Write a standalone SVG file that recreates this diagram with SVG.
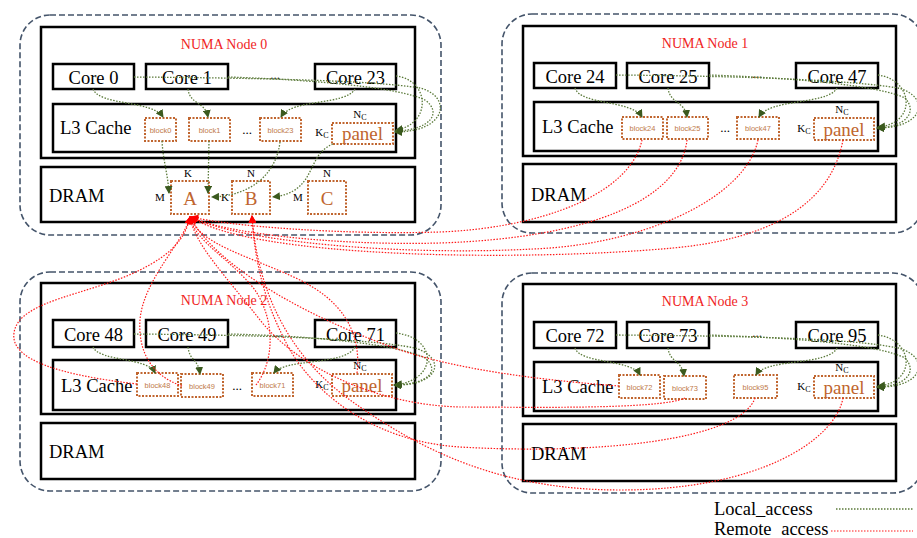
<svg xmlns="http://www.w3.org/2000/svg" width="917" height="538" viewBox="0 0 917 538">
<style>
.outer{fill:none;stroke:#44546a;stroke-width:1.6;stroke-dasharray:6 3}
.box{fill:#fff;stroke:#000;stroke-width:2.5}
.blk{fill:#fff;stroke:#c0652e;stroke-width:2;stroke-dasharray:2 1.5}
.t{font-family:"Liberation Serif","Times New Roman",serif;fill:#000}
.core{font-size:18.5px;text-anchor:middle}
.big{font-size:18.5px}
.title{font-family:"Liberation Serif",serif;font-size:14px;fill:#f01e1e;text-anchor:middle}
.bt{font-family:"Liberation Sans",sans-serif;font-size:7.5px;fill:#c07a4a;text-anchor:middle}
.pan{font-family:"Liberation Serif",serif;font-size:19px;fill:#c0652e;text-anchor:middle}
.mat{font-family:"Liberation Serif",serif;font-size:19px;fill:#c0652e;text-anchor:middle}
.lab{font-family:"Liberation Serif",serif;font-size:11px;fill:#000;text-anchor:middle}
.sub{font-size:8px}
.dots{font-family:"Liberation Serif",serif;font-size:13px;fill:#000;text-anchor:middle}
.g{fill:none;stroke:#5b7a3a;stroke-width:1.3;stroke-dasharray:1.5 1.5}
.r{fill:none;stroke:#ff1a1a;stroke-width:1.2;stroke-dasharray:1.5 1.5}
.ga{marker-end:url(#ag)}
.ra{marker-end:url(#ar)}
</style>
<defs>
<marker id="ag" markerUnits="userSpaceOnUse" markerWidth="8" markerHeight="8" refX="7" refY="4" orient="auto"><path d="M0,0 L8,4 L0,8 z" fill="#3b5a1e"/></marker>
<marker id="ar" markerUnits="userSpaceOnUse" markerWidth="8" markerHeight="8" refX="7" refY="4" orient="auto"><path d="M0,0 L8,4 L0,8 z" fill="#ff0000"/></marker>
</defs>
<rect width="917" height="538" fill="#fff"/>

<g id="numa0">
<rect class="outer" x="20" y="15" width="421" height="220" rx="30"/>
<rect class="box" x="41" y="27" width="374" height="131"/>
<text class="title" x="224" y="49">NUMA Node 0</text>
<g id="core0"><rect class="box" x="53" y="64" width="81" height="25"/><text class="t core" x="93.5" y="84">Core 0</text></g>
<g id="core1"><rect class="box" x="146" y="64" width="82" height="25"/><text class="t core" x="187" y="84">Core 1</text></g>
<text class="dots" x="275" y="79">...</text>
<g id="core23"><rect class="box" x="315" y="64" width="81" height="25"/><text class="t core" x="355.5" y="84">Core 23</text></g>
<g id="l3_0"><rect class="box" x="53" y="104" width="343" height="48"/><text class="t big" x="60" y="134">L3 Cache</text></g>
<g id="block0"><rect class="blk" x="145" y="118" width="31" height="23"/><text class="bt" x="160.5" y="132.5">block0</text></g>
<g id="block1"><rect class="blk" x="189" y="118" width="41" height="23"/><text class="bt" x="209.5" y="132.5">block1</text></g>
<text class="dots" x="247" y="134">...</text>
<g id="block23"><rect class="blk" x="260" y="118" width="41" height="23"/><text class="bt" x="280.5" y="132.5">block23</text></g>
<g id="panel0"><text class="lab" x="322" y="136">K<tspan class="sub" dy="2">C</tspan></text><text class="lab" x="360" y="118">N<tspan class="sub" dy="2">C</tspan></text><rect class="blk" x="332" y="123" width="61" height="21"/><text class="pan" x="362.5" y="140">panel</text></g>
<g id="dram0"><rect class="box" x="41" y="167" width="374" height="55"/><text class="t big" x="49" y="202">DRAM</text></g>
<g id="matA"><rect class="blk" x="171" y="181" width="38" height="33"/><text class="mat" x="190" y="205">A</text><text class="lab" x="188" y="177">K</text><text class="lab" x="160" y="201">M</text></g>
<g id="matB"><rect class="blk" x="232" y="181" width="38" height="33"/><text class="mat" x="251" y="205">B</text><text class="lab" x="251" y="177">N</text><text class="lab" x="225" y="201">K</text></g>
<g id="matC"><rect class="blk" x="308" y="181" width="38" height="33"/><text class="mat" x="327" y="205">C</text><text class="lab" x="327" y="177">N</text><text class="lab" x="298" y="201">M</text></g>
</g>

<g id="numa1">
<rect class="outer" x="502" y="14" width="421" height="219" rx="30"/>
<rect class="box" x="523" y="26" width="373" height="130"/>
<text class="title" x="705" y="48">NUMA Node 1</text>
<g id="core24"><rect class="box" x="534" y="63" width="82" height="25"/><text class="t core" x="575" y="83">Core 24</text></g>
<g id="core25"><rect class="box" x="627" y="63" width="82" height="25"/><text class="t core" x="668" y="83">Core 25</text></g>
<text class="dots" x="757" y="78">...</text>
<g id="core47"><rect class="box" x="796" y="63" width="82" height="25"/><text class="t core" x="837" y="83">Core 47</text></g>
<g id="l3_1"><rect class="box" x="534" y="102" width="344" height="49"/><text class="t big" x="542" y="133">L3 Cache</text></g>
<g id="block24"><rect class="blk" x="622" y="117" width="41" height="22"/><text class="bt" x="642.5" y="131">block24</text></g>
<g id="block25"><rect class="blk" x="667" y="117" width="41" height="22"/><text class="bt" x="687.5" y="131">block25</text></g>
<text class="dots" x="725" y="132">...</text>
<g id="block47"><rect class="blk" x="737" y="117" width="42" height="22"/><text class="bt" x="758" y="131">block47</text></g>
<g id="panel1"><text class="lab" x="804" y="132">K<tspan class="sub" dy="2">C</tspan></text><text class="lab" x="842" y="113">N<tspan class="sub" dy="2">C</tspan></text><rect class="blk" x="814" y="118" width="60" height="22"/><text class="pan" x="844" y="136">panel</text></g>
<g id="dram1"><rect class="box" x="523" y="164" width="373" height="58"/><text class="t big" x="531" y="201">DRAM</text></g>
</g>

<g id="numa2">
<rect class="outer" x="20" y="272" width="421" height="219" rx="30"/>
<rect class="box" x="41" y="283" width="374" height="131"/>
<text class="title" x="224" y="305">NUMA Node 2</text>
<g id="core48"><rect class="box" x="53" y="320" width="81" height="27"/><text class="t core" x="93.5" y="341">Core 48</text></g>
<g id="core49"><rect class="box" x="146" y="320" width="82" height="27"/><text class="t core" x="187" y="341">Core 49</text></g>
<text class="dots" x="278" y="337">...</text>
<g id="core71"><rect class="box" x="315" y="320" width="81" height="27"/><text class="t core" x="355.5" y="341">Core 71</text></g>
<g id="l3_2"><rect class="box" x="53" y="360" width="343" height="50"/><text class="t big" x="61" y="392">L3 Cache</text></g>
<g id="block48"><rect class="blk" x="137" y="373" width="41" height="23"/><text class="bt" x="157.5" y="387.5">block48</text></g>
<g id="block49"><rect class="blk" x="181" y="374" width="42" height="23"/><text class="bt" x="202" y="388.5">block49</text></g>
<text class="dots" x="237" y="390">...</text>
<g id="block71"><rect class="blk" x="252" y="373" width="41" height="23"/><text class="bt" x="272.5" y="387.5">block71</text></g>
<g id="panel2"><text class="lab" x="322" y="388">K<tspan class="sub" dy="2">C</tspan></text><text class="lab" x="360" y="369">N<tspan class="sub" dy="2">C</tspan></text><rect class="blk" x="332" y="374" width="60" height="22"/><text class="pan" x="362" y="392">panel</text></g>
<g id="dram2"><rect class="box" x="41" y="423" width="374" height="56"/><text class="t big" x="49" y="458">DRAM</text></g>
</g>

<g id="numa3">
<rect class="outer" x="502" y="273" width="421" height="220" rx="30"/>
<rect class="box" x="523" y="284" width="373" height="132"/>
<text class="title" x="705" y="306">NUMA Node 3</text>
<g id="core72"><rect class="box" x="534" y="322" width="82" height="26"/><text class="t core" x="575" y="342">Core 72</text></g>
<g id="core73"><rect class="box" x="627" y="322" width="82" height="26"/><text class="t core" x="668" y="342">Core 73</text></g>
<text class="dots" x="757" y="337">...</text>
<g id="core95"><rect class="box" x="796" y="322" width="82" height="26"/><text class="t core" x="837" y="342">Core 95</text></g>
<g id="l3_3"><rect class="box" x="534" y="362" width="344" height="49"/><text class="t big" x="542" y="393">L3 Cache</text></g>
<g id="block72"><rect class="blk" x="619" y="375" width="41" height="23"/><text class="bt" x="639.5" y="389.5">block72</text></g>
<g id="block73"><rect class="blk" x="664" y="376" width="42" height="23"/><text class="bt" x="685" y="390.5">block73</text></g>
<g id="block95"><rect class="blk" x="734" y="375" width="43" height="23"/><text class="bt" x="755.5" y="389.5">block95</text></g>
<g id="panel3"><text class="lab" x="804" y="390">K<tspan class="sub" dy="2">C</tspan></text><text class="lab" x="842" y="371">N<tspan class="sub" dy="2">C</tspan></text><rect class="blk" x="814" y="376" width="60" height="22"/><text class="pan" x="844" y="394">panel</text></g>
<g id="dram3"><rect class="box" x="523" y="424" width="373" height="57"/><text class="t big" x="531" y="460">DRAM</text></g>
</g>

<g id="connectors">
<path class="g ga" d="M93,89 C100,106 152,100 163,117"/>
<path class="g ga" d="M188,89 C190,105 205,101 208,117"/>
<path class="g ga" d="M355,89 C345,106 292,98 281,117"/>
<path class="g ga" d="M134,77 C250,78 370,80 420,88 C452,96 448,132 395,132"/>
<path class="g ga" d="M228,77 C320,80 400,88 425,100 C442,112 432,130 395,131"/>
<path class="g ga" d="M396,76 C430,80 432,124 396,130"/>
<path class="g ga" d="M162,141 C163,160 168,175 169,193"/>
<path class="g ga" d="M209,141 L208,193"/>
<path class="g ga" d="M280,142 C276,175 250,196 212,197"/>
<path class="g ga" d="M333,144 C305,155 318,192 273,197"/>
<path class="g ga" d="M575,88 C580,105 632,100 642,117"/>
<path class="g ga" d="M668,88 C670,104 685,101 687,117"/>
<path class="g ga" d="M837,88 C828,105 770,98 759,117"/>
<path class="g ga" d="M616,75 C740,76 850,80 898,88 C930,96 926,128 877,128"/>
<path class="g ga" d="M709,75 C800,78 880,86 905,98 C918,112 906,127 877,128"/>
<path class="g ga" d="M878,75 C914,80 917,124 878,127"/>
<path class="g ga" d="M93,347 C100,362 148,357 155,373"/>
<path class="g ga" d="M188,347 C190,362 198,358 200,374"/>
<path class="g ga" d="M355,347 C345,366 285,358 274,373"/>
<path class="g ga" d="M134,334 C250,335 365,338 415,348 C447,358 440,386 394,385"/>
<path class="g ga" d="M228,334 C320,336 400,345 425,358 C440,370 430,384 394,385"/>
<path class="g ga" d="M396,333 C438,338 438,380 395,385"/>
<path class="g ga" d="M575,348 C580,364 632,359 640,375"/>
<path class="g ga" d="M668,348 C670,363 682,360 684,376"/>
<path class="g ga" d="M837,348 C828,366 766,358 756,375"/>
<path class="g ga" d="M616,335 C740,336 850,338 898,348 C930,356 926,388 877,387"/>
<path class="g ga" d="M709,335 C800,338 880,345 905,358 C918,372 906,386 877,387"/>
<path class="g ga" d="M878,335 C914,340 917,383 878,386"/>
<path class="r ra" d="M642,140 C630,195 540,228 440,232 C340,235 230,226 191,217"/>
<path class="r ra" d="M687,140 C680,200 590,238 440,243 C330,246 220,232 191,217"/>
<path class="r ra" d="M758,140 C745,200 640,245 533,249 C400,256 240,242 191,217"/>
<path class="r ra" d="M843,140 C830,210 760,240 673,248 C520,262 250,258 191,217"/>
<path class="r ra" d="M137,384 C60,375 10,360 14,333 C18,300 90,295 140,270 C170,255 185,240 190,217"/>
<path class="r ra" d="M182,386 C150,375 138,350 140,320 C143,280 185,240 190,217"/>
<path class="r ra" d="M256,385 C275,360 275,320 255,290 C230,258 195,242 190,217"/>
<path class="r ra" d="M357,373 C362,330 340,300 300,280 C250,256 200,245 190,217"/>
<path class="r ra" d="M619,386 C540,380 460,370 400,350 C320,322 220,272 190,217"/>
<path class="r ra" d="M685,398 C660,410 520,407 460,407 C380,405 300,370 260,320 C225,275 195,245 190,217"/>
<path class="r ra" d="M755,398 C740,440 600,455 460,447 C380,442 320,400 290,350 C268,310 255,270 252,216"/>
<path class="r ra" d="M843,398 C835,440 760,490 620,490 C500,490 420,450 350,400 C295,360 258,300 252,216"/>
</g>

<g id="legend">
<text class="t big" x="714" y="515">Local_access</text>
<line class="g" x1="836" y1="509" x2="913" y2="509"/>
<text class="t big" x="714" y="535" word-spacing="5">Remote access</text>
<line class="r" x1="831" y1="531" x2="913" y2="531"/>
</g>
</svg>
